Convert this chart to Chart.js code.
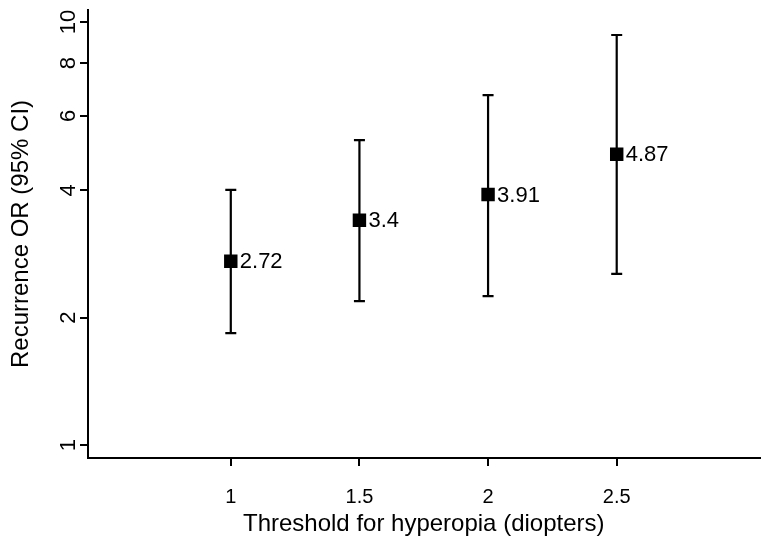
<!DOCTYPE html>
<html>
<head>
<meta charset="utf-8">
<script src="https://cdn.jsdelivr.net/npm/chart.js@4"></script>
<style>
  html, body { margin: 0; padding: 0; background: #fff; }
  #wrap { width: 769px; height: 551px; }
</style>
</head>
<body>
<div id="wrap"><canvas id="orChart" width="769" height="551"></canvas></div>
<script>
// values
const thresholds = [1, 1.5, 2, 2.5];
const xTickLabels = ["1", "1.5", "2", "2.5"];
const orValues = [2.72, 3.4, 3.91, 4.87];
const ciLower = [1.84, 2.19, 2.25, 2.54];
const ciUpper = [4.01, 5.26, 6.72, 9.32];
const yTicks = [1, 2, 4, 6, 8, 10];
const pointLabels = ["2.72", "3.4", "3.91", "4.87"];

const FONT = "'Liberation Sans', Arial, sans-serif";

// error bars behind the squares, value labels after
const ciPlugin = {
  id: "ciBars",
  beforeDatasetsDraw(chart) {
    const { ctx, scales } = chart;
    ctx.save();
    ctx.strokeStyle = "#000";
    ctx.lineWidth = 2.2;
    thresholds.forEach((t, i) => {
      const x = scales.x.getPixelForValue(t);
      const yLo = scales.y.getPixelForValue(ciLower[i]);
      const yHi = scales.y.getPixelForValue(ciUpper[i]);
      ctx.beginPath();
      ctx.moveTo(x, yLo);
      ctx.lineTo(x, yHi);
      ctx.moveTo(x - 5.5, yLo);
      ctx.lineTo(x + 5.5, yLo);
      ctx.moveTo(x - 5.5, yHi);
      ctx.lineTo(x + 5.5, yHi);
      ctx.stroke();
    });
    ctx.restore();
  },
  afterDatasetsDraw(chart) {
    const { ctx, scales } = chart;
    ctx.save();
    ctx.fillStyle = "#000";
    ctx.font = "22px " + FONT;
    ctx.textAlign = "left";
    ctx.textBaseline = "middle";
    thresholds.forEach((t, i) => {
      const x = scales.x.getPixelForValue(t);
      const y = scales.y.getPixelForValue(orValues[i]);
      ctx.fillText(pointLabels[i], x + 9, y + 1);
    });
    ctx.restore();
  },
  afterDraw(chart) {
    const { ctx, scales, chartArea } = chart;
    ctx.save();
    ctx.fillStyle = "#000";
    // y tick labels, rotated like the original
    ctx.font = "22px " + FONT;
    ctx.textAlign = "center";
    ctx.textBaseline = "middle";
    yTicks.forEach((v) => {
      const y = scales.y.getPixelForValue(v);
      ctx.save();
      ctx.translate(69, y);
      ctx.rotate(-Math.PI / 2);
      ctx.fillText(String(v), 0, 0);
      ctx.restore();
    });
    // y title
    ctx.font = "24px " + FONT;
    ctx.save();
    ctx.translate(21, (chartArea.top + chartArea.bottom) / 2);
    ctx.rotate(-Math.PI / 2);
    ctx.fillText("Recurrence OR (95% CI)", 0, 0);
    ctx.restore();
    // x title
    ctx.textBaseline = "alphabetic";
    ctx.fillText("Threshold for hyperopia (diopters)", (chartArea.left + chartArea.right) / 2, 531);
    ctx.restore();
  }
};

new Chart(document.getElementById("orChart"), {
  type: "scatter",
  data: {
    datasets: [
      {
        data: thresholds.map((t, i) => ({ x: t, y: orValues[i] })),
        pointStyle: "rect",
        pointRadius: 9.5,
        pointHoverRadius: 9.5,
        backgroundColor: "#000",
        borderColor: "#000",
        borderWidth: 0,
      },
    ],
  },
  options: {
    responsive: false,
    animation: false,
    devicePixelRatio: 1,
    layout: { padding: { top: 10, right: 9, left: 0, bottom: 0 } },
    plugins: {
      legend: { display: false },
      tooltip: { enabled: false },
    },
    scales: {
      x: {
        type: "linear",
        min: 0.445,
        max: 3.055,
        afterBuildTicks: (scale) => {
          scale.ticks = thresholds.map((v) => ({ value: v }));
        },
        afterFit: (scale) => { scale.height = 93; },
        border: { display: true, color: "#000", width: 2 },
        grid: { drawOnChartArea: false, drawTicks: true, tickLength: 8, color: "#000", lineWidth: 2 },
        ticks: {
          color: "#000",
          font: { family: FONT, size: 20 },
          padding: 19,
          maxRotation: 0,
          callback: (v) => xTickLabels[thresholds.indexOf(v)],
        },
      },
      y: {
        type: "logarithmic",
        min: 0.932,
        max: 10.68,
        afterBuildTicks: (scale) => {
          scale.ticks = yTicks.map((v) => ({ value: v }));
        },
        afterFit: (scale) => { scale.width = 88; },
        border: { display: true, color: "#000", width: 2 },
        grid: { drawOnChartArea: false, drawTicks: true, tickLength: 8, color: "#000", lineWidth: 2 },
        ticks: { display: false },
      },
    },
  },
  plugins: [ciPlugin],
});
</script>
</body>
</html>
